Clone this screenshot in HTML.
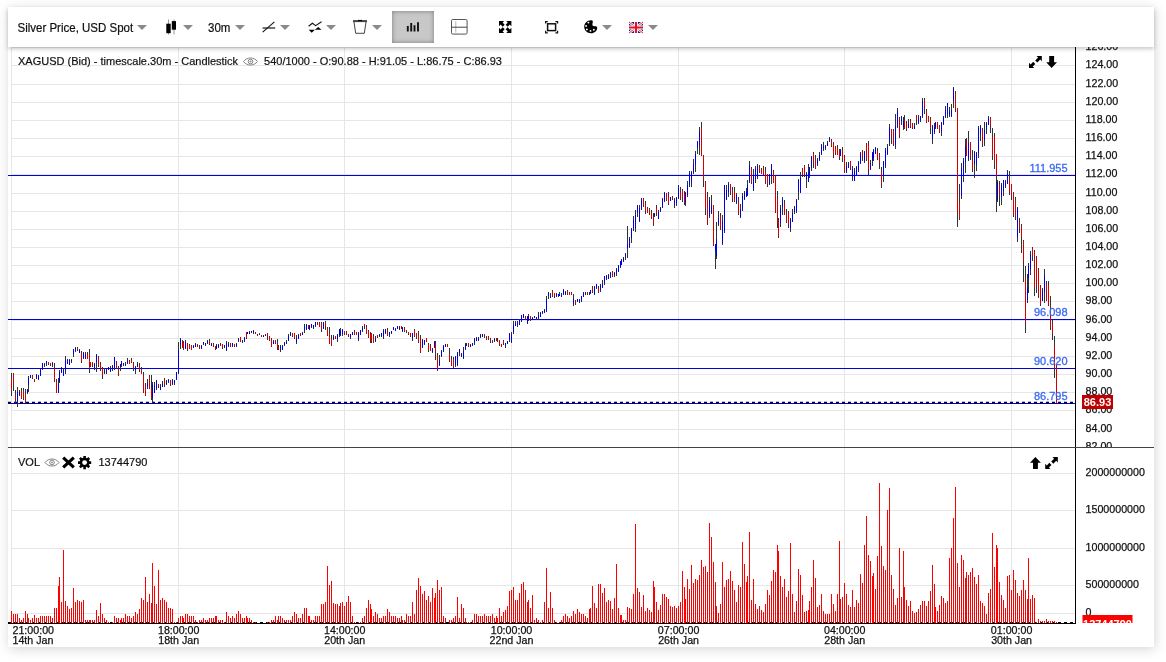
<!DOCTYPE html>
<html><head><meta charset="utf-8"><title>Silver Price Chart</title>
<style>
html,body{margin:0;padding:0;background:#fff;}
body{width:1166px;height:662px;overflow:hidden;position:relative;font-family:"Liberation Sans",sans-serif;}
#panel{position:absolute;left:8px;top:7px;width:1146px;height:640px;background:#fff;box-shadow:1px 2px 11px rgba(0,0,0,.17);}
#ch{position:absolute;left:0;top:0;will-change:transform;}
#tb{will-change:transform;position:absolute;left:8px;top:7px;width:1146px;height:40px;background:#fff;box-shadow:0 2px 4px rgba(0,0,0,.22);}
#tb .t{position:absolute;top:13px;font-size:11.5px;line-height:15px;color:#111;white-space:nowrap;transform:scaleY(1.1);transform-origin:0 0;-webkit-text-stroke:.2px #111;}
#tb .dd{position:absolute;top:18px;width:0;height:0;border-left:5px solid transparent;border-right:5px solid transparent;border-top:5px solid #8a8a8a;}
#tb svg{position:absolute;overflow:visible;}
#act{position:absolute;left:384px;top:4px;width:42px;height:32px;background:#c8c8c8;box-shadow:inset 0 0 5px rgba(0,0,0,.38);}
text{font-family:"Liberation Sans",sans-serif;}
.ax{font-size:10.67px;fill:#111;stroke:#111;stroke-width:.25px;}
.lg{font-size:11px;fill:#111;stroke:#111;stroke-width:.2px;}
.bl{font-size:11px;fill:#3a69f5;stroke:#3a69f5;stroke-width:.3px;}
.tag{font-size:11px;font-weight:bold;fill:#fff;}
</style></head><body>
<div id="panel"></div>
<svg id="ch" width="1166" height="662" viewBox="0 0 1166 662">
<defs><clipPath id="cm"><rect x="8" y="47" width="1146" height="400.5"/></clipPath><clipPath id="cv"><rect x="8" y="448" width="1146" height="175"/></clipPath></defs>
<path d="M11 447.5H1075M11 429.5H1075M11 410.5H1075M11 392.5H1075M11 374.5H1075M11 356.5H1075M11 338.5H1075M11 320.5H1075M11 301.5H1075M11 283.5H1075M11 265.5H1075M11 247.5H1075M11 229.5H1075M11 211.5H1075M11 193.5H1075M11 174.5H1075M11 156.5H1075M11 138.5H1075M11 120.5H1075M11 102.5H1075M11 84.5H1075M11 65.5H1075M11 47.5H1075M11 473.5H1075M11 510.5H1075M11 548.5H1075M11 585.5H1075M11 613.5H1075M11.5 47V622M178.5 47V622M344.5 47V622M511.5 47V622M678.5 47V622M844.5 47V622M1011.5 47V622" stroke="#e6e6e6" stroke-width="1" fill="none" shape-rendering="crispEdges"/>
<g clip-path="url(#cm)">
<path d="M8 175.5H1075" stroke="#0000e0" stroke-width="1" shape-rendering="crispEdges"/>
<path d="M8 319.5H1075" stroke="#0000e0" stroke-width="1" shape-rendering="crispEdges"/>
<path d="M8 368.5H1075" stroke="#0000e0" stroke-width="1" shape-rendering="crispEdges"/>
<path d="M8 403.5H1075" stroke="#0000e0" stroke-width="1" shape-rendering="crispEdges"/>
<path d="M8 402.5H1075" stroke="#000" stroke-width="1.4" stroke-dasharray="3 3"/>
<path d="M11.5 373V396M13.5 373V391M15.5 390V403M17.5 387V407M19.5 390V396M21.5 388V399M23.5 388V400M25.5 389V403M27.5 389V394M28.5 376V392M30.5 375V378M32.5 375V379M34.5 379V382M36.5 374V379M38.5 375V380M40.5 369V376M42.5 363V370M44.5 363V367M46.5 361V366M48.5 362V365M50.5 363V366M52.5 362V367M54.5 363V382M56.5 379V393M58.5 378V393M59.5 370V383M61.5 367V373M63.5 368V376M65.5 356V374M67.5 359V364M69.5 359V365M71.5 359V363M73.5 349V357M75.5 347V352M77.5 347V351M79.5 349V353M81.5 351V363M83.5 352V359M85.5 352V359M87.5 352V359M89.5 349V373M90.5 362V367M92.5 362V367M94.5 363V370M96.5 354V372M98.5 356V367M100.5 362V371M102.5 367V379M104.5 368V374M106.5 369V374M108.5 367V370M110.5 366V372M112.5 365V371M114.5 357V370M116.5 361V369M118.5 366V376M120.5 364V371M121.5 361V367M123.5 363V366M125.5 362V366M127.5 358V364M129.5 360V364M131.5 358V363M133.5 362V371M135.5 366V374M137.5 362V367M139.5 363V372M141.5 367V374M143.5 372V393M145.5 383V396M147.5 379V389M149.5 375V389M151.5 375V400M152.5 382V403M154.5 382V393M156.5 380V390M158.5 384V388M160.5 384V390M162.5 381V387M164.5 378V387M166.5 380V385M168.5 379V383M170.5 380V386M172.5 379V385M174.5 380V385M176.5 372V380M178.5 342V374M180.5 338V349M182.5 340V348M183.5 341V350M185.5 340V349M187.5 343V351M189.5 344V349M191.5 345V350M193.5 345V348M195.5 343V347M197.5 344V347M199.5 345V349M201.5 345V349M203.5 342V345M205.5 343V346M207.5 340V344M209.5 339V345M211.5 343V346M213.5 343V347M215.5 346V350M216.5 344V349M218.5 344V348M220.5 343V346M222.5 344V349M224.5 345V348M226.5 341V351M228.5 342V347M230.5 343V347M232.5 343V347M234.5 344V347M236.5 343V347M238.5 338V342M240.5 337V342M242.5 340V343M244.5 337V342M246.5 332V339M247.5 332V334M249.5 331V334M251.5 331V333M253.5 330V334M255.5 332V334M257.5 334V336M259.5 333V335M261.5 335V337M263.5 335V337M265.5 334V336M267.5 333V340M269.5 336V341M271.5 338V347M273.5 340V344M275.5 340V344M277.5 339V350M278.5 345V350M280.5 345V352M282.5 345V350M284.5 342V346M286.5 340V344M288.5 334V341M290.5 332V336M292.5 333V337M294.5 333V339M296.5 335V344M298.5 334V339M300.5 333V336M302.5 332V335M304.5 324V333M306.5 324V330M308.5 325V329M309.5 325V330M311.5 324V328M313.5 325V329M315.5 322V327M317.5 322V325M319.5 322V327M321.5 322V332M323.5 322V329M325.5 321V330M327.5 327V336M329.5 327V344M331.5 335V346M333.5 335V340M335.5 336V339M337.5 334V342M339.5 329V337M340.5 328V336M342.5 329V336M344.5 331V335M346.5 331V335M348.5 334V337M350.5 334V339M352.5 332V335M354.5 330V335M356.5 332V335M358.5 332V341M360.5 330V335M362.5 326V332M364.5 324V329M366.5 325V334M368.5 330V338M370.5 332V343M371.5 333V343M373.5 334V343M375.5 336V342M377.5 335V338M379.5 334V337M381.5 333V337M383.5 329V339M385.5 329V334M387.5 328V336M389.5 332V337M391.5 331V334M393.5 327V330M395.5 328V331M397.5 326V329M399.5 326V330M401.5 326V329M402.5 327V332M404.5 327V332M406.5 330V333M408.5 332V335M410.5 333V337M412.5 333V341M414.5 329V337M416.5 333V339M418.5 331V343M420.5 335V353M422.5 339V348M424.5 340V345M426.5 338V342M428.5 343V352M430.5 344V351M432.5 348V353M434.5 341V348M435.5 341V360M437.5 353V371M439.5 355V366M441.5 350V357M443.5 345V352M445.5 344V347M447.5 344V347M449.5 348V362M451.5 356V366M453.5 357V368M455.5 356V367M457.5 352V366M459.5 349V356M461.5 353V357M463.5 347V359M465.5 343V350M466.5 343V346M468.5 343V347M470.5 344V347M472.5 343V346M474.5 338V345M476.5 337V341M478.5 337V341M480.5 334V338M482.5 334V337M484.5 334V338M486.5 336V340M488.5 336V340M490.5 338V343M492.5 340V343M494.5 338V342M496.5 338V341M497.5 338V342M499.5 340V346M501.5 344V347M503.5 340V345M505.5 343V348M507.5 341V344M509.5 333V342M511.5 332V343M513.5 321V334M515.5 321V326M517.5 321V327M519.5 319V325M521.5 315V322M523.5 314V318M525.5 316V320M527.5 316V324M528.5 314V321M530.5 316V321M532.5 317V320M534.5 316V318M536.5 317V320M538.5 312V320M540.5 312V317M542.5 311V314M544.5 309V313M546.5 296V312M548.5 292V299M550.5 293V298M552.5 290V297M554.5 293V298M556.5 293V297M558.5 294V297M559.5 292V296M561.5 293V297M563.5 289V295M565.5 291V295M567.5 290V295M569.5 292V295M571.5 292V295M573.5 294V306M575.5 300V305M577.5 299V302M579.5 299V303M581.5 296V302M583.5 292V297M585.5 292V295M587.5 292V295M589.5 292V295M590.5 290V294M592.5 286V293M594.5 286V295M596.5 284V289M598.5 286V293M600.5 284V292M602.5 280V288M604.5 276V285M606.5 275V280M608.5 274V279M610.5 272V278M612.5 271V277M614.5 272V277M616.5 268V276M618.5 265V272M620.5 261V268M621.5 259V265M623.5 257V262M625.5 253V260M627.5 226V258M629.5 237V248M631.5 228V243M633.5 216V231M635.5 210V232M637.5 205V217M639.5 205V222M641.5 198V210M643.5 198V207M645.5 201V214M647.5 207V213M649.5 208V215M651.5 210V219M653.5 213V226M654.5 213V217M656.5 205V216M658.5 210V219M660.5 207V212M662.5 198V208M664.5 192V202M666.5 193V201M668.5 192V205M670.5 197V201M672.5 196V200M674.5 198V208M676.5 197V206M678.5 185V199M680.5 187V200M682.5 189V202M684.5 191V205M685.5 192V206M687.5 181V197M689.5 171V187M691.5 171V187M693.5 159V174M695.5 151V172M697.5 141V154M699.5 127V155M701.5 122V156M703.5 155V187M705.5 181V215M707.5 192V225M709.5 197V218M711.5 195V214M713.5 205V246M715.5 244V269M716.5 222V259M718.5 211V226M720.5 213V230M722.5 215V245M724.5 185V233M726.5 185V200M728.5 182V197M730.5 184V195M732.5 187V202M734.5 187V202M736.5 193V204M738.5 197V215M740.5 204V218M742.5 193V211M744.5 191V200M746.5 188V197M747.5 180V196M749.5 161V183M751.5 167V184M753.5 169V191M755.5 166V183M757.5 164V179M759.5 165V173M761.5 168V174M763.5 166V175M765.5 167V184M767.5 174V187M769.5 174V185M771.5 164V184M773.5 170V183M775.5 175V213M777.5 191V228M778.5 218V238M780.5 205V227M782.5 197V215M784.5 200V215M786.5 209V223M788.5 211V228M790.5 218V232M792.5 209V222M794.5 206V214M796.5 199V213M798.5 179V200M800.5 172V193M802.5 168V177M804.5 165V177M806.5 172V188M808.5 164V182M809.5 167V178M811.5 156V171M813.5 152V168M815.5 155V169M817.5 158V166M819.5 152V161M821.5 144V155M823.5 142V151M825.5 145V150M827.5 141V146M829.5 137V142M831.5 139V147M833.5 142V158M835.5 146V155M837.5 145V155M839.5 149V160M840.5 149V156M842.5 147V162M844.5 155V173M846.5 162V173M848.5 162V168M850.5 161V170M852.5 166V181M854.5 168V181M856.5 166V175M858.5 161V172M860.5 152V164M862.5 150V161M864.5 151V163M866.5 143V161M868.5 141V175M870.5 160V170M872.5 152V166M873.5 149V161M875.5 147V154M877.5 148V160M879.5 153V169M881.5 167V188M883.5 161V182M885.5 148V168M887.5 144V155M889.5 124V146M891.5 129V144M893.5 129V146M895.5 114V149M897.5 108V128M899.5 117V138M901.5 116V125M903.5 117V130M904.5 115V129M906.5 121V131M908.5 119V128M910.5 119V128M912.5 123V129M914.5 123V129M916.5 115V125M918.5 115V124M920.5 116V122M922.5 98V118M924.5 98V114M926.5 109V123M928.5 116V122M930.5 117V134M932.5 125V144M934.5 123V134M935.5 122V129M937.5 122V129M939.5 125V133M941.5 122V136M943.5 116V125M945.5 106V118M947.5 103V118M949.5 107V117M951.5 104V117M953.5 87V108M955.5 91V112M957.5 108V227M959.5 184V220M961.5 163V199M963.5 158V182M965.5 139V173M966.5 138V156M968.5 131V161M970.5 142V160M972.5 150V172M974.5 151V178M976.5 152V171M978.5 126V158M980.5 125V141M982.5 128V147M984.5 122V146M986.5 122V134M988.5 116V125M990.5 117V133M992.5 128V160M994.5 133V169M996.5 154V212M997.5 180V202M999.5 181V206M1001.5 183V205M1003.5 180V196M1005.5 180V188M1007.5 170V184M1009.5 171V195M1011.5 184V200M1013.5 192V217M1015.5 197V220M1017.5 207V242M1019.5 218V233M1021.5 224V253M1023.5 240V282M1025.5 266V333M1027.5 274V303M1028.5 263V293M1030.5 251V275M1032.5 247V261M1034.5 250V296M1036.5 256V293M1038.5 268V298M1040.5 285V306M1042.5 288V301M1044.5 269V303M1046.5 281V301M1048.5 281V306M1050.5 296V330M1052.5 320V340M1054.5 336V378M1056.5 364V403" stroke="#2e3436" stroke-width="1" shape-rendering="crispEdges"/>
<path d="M17.5 392V402M19.5 392V395M27.5 390V393M28.5 378V385M30.5 375V378M36.5 375V378M38.5 376V379M40.5 370V376M42.5 363V369M44.5 364V365M46.5 361V364M52.5 363V365M58.5 384V393M59.5 372V382M61.5 368V373M63.5 370V376M65.5 360V371M67.5 360V364M69.5 360V365M71.5 360V361M73.5 349V354M75.5 348V351M79.5 350V353M83.5 353V358M85.5 354V358M94.5 364V368M96.5 355V362M104.5 371V373M106.5 370V372M108.5 367V370M110.5 368V371M112.5 366V369M114.5 357V368M120.5 364V367M121.5 361V365M123.5 363V365M125.5 364V365M127.5 361V363M135.5 367V370M137.5 364V367M147.5 383V387M152.5 385V398M154.5 385V393M156.5 381V388M160.5 387V390M162.5 384V387M166.5 381V384M168.5 380V382M172.5 381V384M174.5 380V383M176.5 372V379M178.5 350V373M180.5 339V345M185.5 342V349M193.5 346V348M195.5 344V347M201.5 346V349M203.5 342V344M205.5 343V345M207.5 341V343M211.5 344V346M216.5 345V349M218.5 345V347M224.5 345V347M226.5 343V350M228.5 344V346M232.5 343V346M236.5 344V346M238.5 339V341M242.5 341V342M244.5 338V341M247.5 332V334M249.5 332V334M251.5 331V332M253.5 331V333M263.5 336V337M265.5 335V336M273.5 341V344M280.5 346V350M282.5 346V350M284.5 343V345M286.5 342V344M288.5 336V341M290.5 333V335M296.5 338V342M298.5 335V339M302.5 333V335M304.5 326V330M306.5 325V329M309.5 326V329M311.5 324V327M313.5 325V328M315.5 322V326M323.5 323V329M333.5 337V339M337.5 335V339M339.5 329V335M340.5 331V335M342.5 330V334M350.5 334V337M352.5 332V335M358.5 333V339M360.5 330V335M362.5 328V331M375.5 339V341M379.5 335V336M381.5 333V336M383.5 331V336M385.5 329V333M389.5 332V335M391.5 331V333M393.5 327V330M395.5 329V331M397.5 326V329M399.5 327V329M402.5 328V331M412.5 333V338M422.5 340V347M424.5 340V344M432.5 349V352M434.5 342V346M439.5 360V365M441.5 351V356M443.5 346V351M445.5 344V347M455.5 357V365M457.5 353V365M459.5 349V353M461.5 354V356M463.5 351V358M465.5 345V349M466.5 344V345M470.5 345V347M472.5 343V345M474.5 339V342M476.5 338V341M478.5 338V340M480.5 335V337M482.5 334V337M494.5 339V341M505.5 343V346M507.5 341V344M509.5 334V340M511.5 335V342M513.5 325V332M515.5 323V326M517.5 322V325M519.5 320V325M521.5 315V321M523.5 314V318M527.5 317V323M528.5 316V320M532.5 318V320M534.5 316V317M536.5 317V319M538.5 315V318M540.5 313V317M542.5 311V313M544.5 310V313M546.5 299V311M548.5 293V296M550.5 296V298M556.5 294V296M558.5 294V296M559.5 294V296M561.5 295V297M563.5 290V295M565.5 292V294M573.5 299V304M577.5 299V301M579.5 300V302M581.5 296V301M583.5 293V297M585.5 292V294M589.5 293V294M590.5 290V293M594.5 287V294M596.5 284V288M600.5 285V290M602.5 284V287M604.5 276V283M606.5 276V279M608.5 275V279M610.5 273V276M614.5 273V275M616.5 269V273M618.5 266V272M620.5 261V267M621.5 260V265M623.5 258V261M625.5 254V257M627.5 244V248M629.5 239V247M631.5 229V238M633.5 220V229M635.5 215V228M637.5 206V213M639.5 208V221M641.5 199V209M654.5 214V216M658.5 212V219M660.5 208V211M662.5 199V207M664.5 193V201M670.5 197V201M674.5 200V205M676.5 198V203M678.5 188V198M685.5 193V203M687.5 185V195M689.5 173V185M691.5 172V182M693.5 164V172M695.5 154V165M697.5 142V148M699.5 131V145M709.5 200V216M711.5 205V213M715.5 244V251M716.5 239V256M718.5 218V224M722.5 221V243M724.5 185V231M726.5 190V199M728.5 184V192M736.5 195V203M740.5 209V217M742.5 196V209M744.5 193V199M746.5 192V197M747.5 185V195M749.5 165V181M753.5 175V189M755.5 169V179M757.5 166V177M769.5 175V184M771.5 165V176M780.5 208V223M782.5 199V207M790.5 220V228M792.5 213V222M794.5 207V212M796.5 200V211M798.5 180V192M800.5 178V193M806.5 173V179M808.5 173V182M809.5 167V176M811.5 157V168M817.5 160V164M819.5 155V160M821.5 145V154M823.5 146V149M825.5 146V148M827.5 143V146M829.5 138V140M840.5 150V156M846.5 166V172M848.5 163V168M852.5 169V177M854.5 171V181M856.5 167V175M858.5 162V170M860.5 154V163M864.5 152V161M870.5 163V169M872.5 153V161M873.5 150V158M875.5 148V154M883.5 162V176M885.5 150V166M887.5 147V154M889.5 127V142M895.5 126V145M897.5 111V127M901.5 117V121M903.5 121V127M908.5 124V128M914.5 126V129M918.5 118V123M920.5 116V120M922.5 101V116M932.5 126V138M934.5 127V132M935.5 122V127M941.5 123V131M943.5 117V124M945.5 110V117M947.5 103V114M949.5 111V115M951.5 110V116M953.5 88V101M961.5 168V196M963.5 161V176M965.5 146V162M968.5 143V159M974.5 152V164M976.5 153V165M978.5 128V153M980.5 127V134M984.5 130V140M986.5 123V129M988.5 118V125M997.5 182V200M1001.5 185V197M1003.5 180V191M1005.5 181V186M1007.5 173V184M1017.5 208V237M1027.5 287V300M1028.5 266V278M1030.5 254V269M1042.5 290V301M1044.5 275V292" stroke="#0000dc" stroke-width="1" shape-rendering="crispEdges"/>
<path d="M11.5 379V391M13.5 374V383M15.5 395V401M21.5 391V398M23.5 391V398M25.5 394V402M32.5 376V378M34.5 379V382M48.5 362V364M50.5 363V365M54.5 368V381M56.5 382V393M77.5 348V350M81.5 353V361M87.5 354V359M89.5 354V368M90.5 362V366M92.5 362V365M98.5 358V366M100.5 364V369M102.5 368V375M116.5 363V368M118.5 370V375M129.5 361V364M131.5 360V363M133.5 363V368M139.5 365V370M141.5 370V374M143.5 375V391M145.5 385V395M149.5 377V388M151.5 388V398M158.5 384V386M164.5 379V384M170.5 381V386M182.5 343V348M183.5 341V348M187.5 343V349M189.5 345V349M191.5 345V350M197.5 344V347M199.5 347V349M209.5 341V344M213.5 344V347M215.5 346V349M220.5 344V346M222.5 344V347M230.5 343V347M234.5 344V346M240.5 337V342M246.5 332V338M255.5 333V334M257.5 335V336M259.5 333V334M261.5 335V337M267.5 333V336M269.5 336V340M271.5 339V346M275.5 340V343M277.5 344V348M278.5 347V350M292.5 333V336M294.5 333V338M300.5 333V335M308.5 325V328M317.5 322V325M319.5 323V327M321.5 324V329M325.5 322V326M327.5 328V335M329.5 333V343M331.5 339V345M335.5 336V338M344.5 331V333M346.5 332V334M348.5 334V336M354.5 331V334M356.5 332V335M364.5 324V326M366.5 327V334M368.5 331V337M370.5 334V339M371.5 333V342M373.5 336V343M377.5 335V337M387.5 330V335M401.5 326V329M404.5 328V331M406.5 331V332M408.5 332V334M410.5 333V336M414.5 330V336M416.5 333V337M418.5 336V342M420.5 339V352M426.5 338V342M428.5 344V350M430.5 347V351M435.5 343V351M437.5 355V370M447.5 344V347M449.5 354V361M451.5 359V365M453.5 361V367M468.5 343V346M484.5 334V337M486.5 337V339M488.5 336V338M490.5 340V342M492.5 340V341M496.5 338V340M497.5 340V341M499.5 340V344M501.5 344V347M503.5 341V344M525.5 317V319M530.5 316V319M552.5 291V296M554.5 293V296M567.5 291V294M569.5 293V295M571.5 292V295M575.5 301V303M587.5 292V294M592.5 287V290M598.5 288V292M612.5 271V276M643.5 199V205M645.5 204V210M647.5 208V213M649.5 210V214M651.5 212V218M653.5 217V223M656.5 208V213M666.5 193V200M668.5 196V203M672.5 197V199M680.5 192V199M682.5 190V197M684.5 193V203M701.5 128V155M703.5 155V179M705.5 182V208M707.5 197V223M713.5 205V245M720.5 216V229M730.5 184V191M732.5 191V198M734.5 192V201M738.5 202V214M751.5 168V182M759.5 167V171M761.5 170V174M763.5 167V174M765.5 172V181M767.5 174V184M773.5 172V182M775.5 176V211M777.5 198V223M778.5 222V236M784.5 204V214M786.5 214V222M788.5 213V224M802.5 169V175M804.5 166V174M813.5 153V161M815.5 158V168M831.5 141V146M833.5 143V155M835.5 147V153M837.5 147V155M839.5 150V157M842.5 151V159M844.5 157V172M850.5 161V168M862.5 151V157M866.5 144V159M868.5 145V170M877.5 151V158M879.5 155V163M881.5 172V184M891.5 129V136M893.5 131V144M899.5 118V135M904.5 120V128M906.5 124V129M910.5 121V127M912.5 124V128M916.5 115V120M924.5 100V107M926.5 111V122M928.5 117V121M930.5 119V128M937.5 122V128M939.5 126V132M955.5 93V109M957.5 108V212M959.5 203V219M966.5 140V156M970.5 143V157M972.5 160V169M982.5 130V143M990.5 118V126M992.5 137V156M994.5 136V163M996.5 154V176M999.5 184V196M1009.5 178V191M1011.5 184V196M1013.5 194V214M1015.5 201V216M1019.5 221V227M1021.5 226V238M1023.5 241V262M1025.5 278V322M1032.5 248V256M1034.5 252V288M1036.5 258V285M1038.5 270V295M1040.5 287V304M1046.5 284V301M1048.5 286V305M1050.5 307V328M1052.5 324V334M1054.5 346V369M1056.5 367V403" stroke="#d40000" stroke-width="1" shape-rendering="crispEdges"/>
<text x="1067.6" y="172" text-anchor="end" class="bl">111.955</text>
<text x="1067.6" y="316" text-anchor="end" class="bl">96.098</text>
<text x="1067.6" y="365" text-anchor="end" class="bl">90.620</text>
<text x="1067.6" y="400" text-anchor="end" class="bl">86.795</text>
<text x="1085.6" y="449.8" class="ax">82.00</text>
<text x="1085.6" y="431.8" class="ax">84.00</text>
<text x="1085.6" y="412.8" class="ax">86.00</text>
<text x="1085.6" y="394.8" class="ax">88.00</text>
<text x="1085.6" y="376.8" class="ax">90.00</text>
<text x="1085.6" y="358.8" class="ax">92.00</text>
<text x="1085.6" y="340.8" class="ax">94.00</text>
<text x="1085.6" y="322.8" class="ax">96.00</text>
<text x="1085.6" y="303.8" class="ax">98.00</text>
<text x="1085.6" y="285.8" class="ax">100.00</text>
<text x="1085.6" y="267.8" class="ax">102.00</text>
<text x="1085.6" y="249.8" class="ax">104.00</text>
<text x="1085.6" y="231.8" class="ax">106.00</text>
<text x="1085.6" y="213.8" class="ax">108.00</text>
<text x="1085.6" y="195.8" class="ax">110.00</text>
<text x="1085.6" y="176.8" class="ax">112.00</text>
<text x="1085.6" y="158.8" class="ax">114.00</text>
<text x="1085.6" y="140.8" class="ax">116.00</text>
<text x="1085.6" y="122.8" class="ax">118.00</text>
<text x="1085.6" y="104.8" class="ax">120.00</text>
<text x="1085.6" y="86.8" class="ax">122.00</text>
<text x="1085.6" y="67.8" class="ax">124.00</text>
<text x="1085.6" y="49.8" class="ax">126.00</text>
<rect x="1082" y="395" width="31" height="14" fill="#c00000"/>
<text x="1097.5" y="406" text-anchor="middle" class="tag">86.93</text>
</g>
<g clip-path="url(#cv)">
<path d="M8 622.5H1075" stroke="#000" stroke-width="1" stroke-dasharray="3 3" shape-rendering="crispEdges"/>
<path d="M11.5 623v-12M13.5 623v-9M15.5 623v-9M17.5 623v-9M19.5 623v-5M21.5 623v-3M23.5 623v-5M25.5 623v-12M27.5 623v-9M28.5 623v-5M30.5 623v-3M32.5 623v-5M34.5 623v-8M36.5 623v-5M38.5 623v-5M40.5 623v-7M42.5 623v-7M44.5 623v-7M46.5 623v-7M48.5 623v-7M50.5 623v-7M52.5 623v-5M54.5 623v-15M56.5 623v-15M58.5 623v-37M59.5 623v-46M61.5 623v-21M63.5 623v-73M65.5 623v-22M67.5 623v-17M69.5 623v-14M71.5 623v-15M73.5 623v-35M75.5 623v-21M77.5 623v-23M79.5 623v-22M81.5 623v-21M83.5 623v-23M85.5 623v-3M87.5 623v-3M89.5 623v-3M90.5 623v-3M92.5 623v-3M94.5 623v-3M96.5 623v-13M98.5 623v-7M100.5 623v-20M102.5 623v-9M104.5 623v-5M106.5 623v-3M108.5 623v-1M112.5 623v-1M114.5 623v-7M116.5 623v-5M118.5 623v-5M120.5 623v-3M121.5 623v-5M123.5 623v-5M125.5 623v-9M127.5 623v-7M129.5 623v-7M131.5 623v-5M133.5 623v-7M135.5 623v-11M137.5 623v-9M139.5 623v-14M141.5 623v-25M143.5 623v-23M145.5 623v-46M147.5 623v-21M149.5 623v-29M151.5 623v-20M152.5 623v-60M154.5 623v-37M156.5 623v-19M158.5 623v-53M160.5 623v-23M162.5 623v-25M164.5 623v-23M166.5 623v-21M168.5 623v-15M170.5 623v-15M172.5 623v-14M174.5 623v-1M176.5 623v-1M178.5 623v-5M180.5 623v-7M182.5 623v-7M183.5 623v-5M185.5 623v-9M187.5 623v-9M189.5 623v-7M191.5 623v-7M193.5 623v-7M195.5 623v-3M197.5 623v-1M199.5 623v-3M201.5 623v-3M203.5 623v-5M205.5 623v-3M207.5 623v-3M209.5 623v-5M211.5 623v-5M213.5 623v-5M215.5 623v-7M216.5 623v-7M218.5 623v-3M220.5 623v-3M222.5 623v-3M224.5 623v-1M226.5 623v-11M228.5 623v-7M230.5 623v-5M232.5 623v-7M234.5 623v-5M236.5 623v-9M238.5 623v-12M240.5 623v-9M242.5 623v-5M244.5 623v-5M246.5 623v-7M247.5 623v-5M249.5 623v-5M251.5 623v-3M253.5 623v-1M255.5 623v-1M267.5 623v-1M269.5 623v-1M271.5 623v-3M273.5 623v-3M275.5 623v-7M277.5 623v-3M278.5 623v-7M280.5 623v-7M282.5 623v-5M284.5 623v-3M286.5 623v-3M288.5 623v-3M290.5 623v-3M292.5 623v-7M294.5 623v-11M296.5 623v-9M298.5 623v-5M300.5 623v-5M302.5 623v-9M304.5 623v-15M306.5 623v-15M308.5 623v-7M309.5 623v-7M311.5 623v-3M313.5 623v-3M315.5 623v-7M317.5 623v-7M319.5 623v-7M321.5 623v-19M323.5 623v-19M325.5 623v-21M327.5 623v-57M329.5 623v-38M331.5 623v-42M333.5 623v-20M335.5 623v-19M337.5 623v-19M339.5 623v-17M340.5 623v-20M342.5 623v-21M344.5 623v-17M346.5 623v-21M348.5 623v-27M350.5 623v-21M352.5 623v-7M354.5 623v-1M358.5 623v-1M360.5 623v-1M362.5 623v-5M364.5 623v-7M366.5 623v-15M368.5 623v-23M370.5 623v-19M371.5 623v-14M373.5 623v-7M375.5 623v-11M377.5 623v-9M379.5 623v-5M381.5 623v-5M383.5 623v-7M385.5 623v-7M387.5 623v-14M389.5 623v-11M391.5 623v-7M393.5 623v-7M395.5 623v-7M397.5 623v-5M399.5 623v-5M401.5 623v-7M402.5 623v-3M404.5 623v-3M406.5 623v-9M408.5 623v-7M410.5 623v-7M412.5 623v-21M414.5 623v-9M416.5 623v-33M418.5 623v-45M420.5 623v-37M422.5 623v-29M424.5 623v-32M426.5 623v-23M428.5 623v-27M430.5 623v-21M432.5 623v-35M434.5 623v-25M435.5 623v-30M437.5 623v-43M439.5 623v-33M441.5 623v-36M443.5 623v-7M445.5 623v-5M449.5 623v-3M451.5 623v-3M453.5 623v-5M455.5 623v-7M457.5 623v-26M459.5 623v-5M461.5 623v-19M463.5 623v-15M465.5 623v-5M466.5 623v-1M468.5 623v-1M470.5 623v-1M472.5 623v-3M474.5 623v-9M476.5 623v-9M478.5 623v-7M480.5 623v-7M482.5 623v-7M484.5 623v-9M486.5 623v-7M488.5 623v-7M490.5 623v-7M492.5 623v-9M494.5 623v-5M496.5 623v-7M497.5 623v-5M499.5 623v-15M501.5 623v-7M503.5 623v-11M505.5 623v-13M507.5 623v-17M509.5 623v-32M511.5 623v-33M513.5 623v-36M515.5 623v-23M517.5 623v-23M519.5 623v-30M521.5 623v-39M523.5 623v-41M525.5 623v-33M527.5 623v-21M528.5 623v-23M530.5 623v-15M532.5 623v-28M534.5 623v-3M536.5 623v-5M538.5 623v-3M540.5 623v-1M542.5 623v-3M544.5 623v-21M546.5 623v-55M548.5 623v-15M550.5 623v-31M552.5 623v-15M554.5 623v-3M556.5 623v-1M559.5 623v-1M561.5 623v-3M563.5 623v-7M565.5 623v-9M567.5 623v-7M569.5 623v-5M571.5 623v-7M573.5 623v-12M575.5 623v-9M577.5 623v-14M579.5 623v-11M581.5 623v-9M583.5 623v-9M585.5 623v-7M587.5 623v-5M589.5 623v-14M590.5 623v-15M592.5 623v-37M594.5 623v-20M596.5 623v-15M598.5 623v-39M600.5 623v-39M602.5 623v-30M604.5 623v-35M606.5 623v-21M608.5 623v-23M610.5 623v-22M612.5 623v-14M614.5 623v-25M616.5 623v-59M618.5 623v-15M620.5 623v-8M621.5 623v-8M623.5 623v-3M625.5 623v-3M627.5 623v-16M629.5 623v-15M631.5 623v-14M633.5 623v-29M635.5 623v-99M637.5 623v-35M639.5 623v-31M641.5 623v-16M643.5 623v-28M645.5 623v-12M647.5 623v-15M649.5 623v-13M651.5 623v-11M653.5 623v-42M654.5 623v-36M656.5 623v-21M658.5 623v-13M660.5 623v-18M662.5 623v-29M664.5 623v-29M666.5 623v-26M668.5 623v-24M670.5 623v-17M672.5 623v-16M674.5 623v-17M676.5 623v-15M678.5 623v-17M680.5 623v-21M682.5 623v-52M684.5 623v-36M685.5 623v-24M687.5 623v-44M689.5 623v-34M691.5 623v-58M693.5 623v-40M695.5 623v-44M697.5 623v-43M699.5 623v-48M701.5 623v-63M703.5 623v-56M705.5 623v-57M707.5 623v-51M709.5 623v-100M711.5 623v-86M713.5 623v-61M715.5 623v-41M716.5 623v-17M718.5 623v-10M720.5 623v-19M722.5 623v-61M724.5 623v-36M726.5 623v-43M728.5 623v-44M730.5 623v-52M732.5 623v-42M734.5 623v-33M736.5 623v-21M738.5 623v-38M740.5 623v-36M742.5 623v-81M744.5 623v-59M746.5 623v-41M747.5 623v-47M749.5 623v-91M751.5 623v-23M753.5 623v-44M755.5 623v-19M757.5 623v-14M759.5 623v-17M761.5 623v-13M763.5 623v-11M765.5 623v-19M767.5 623v-33M769.5 623v-28M771.5 623v-42M773.5 623v-53M775.5 623v-51M777.5 623v-78M778.5 623v-72M780.5 623v-47M782.5 623v-36M784.5 623v-44M786.5 623v-26M788.5 623v-32M790.5 623v-80M792.5 623v-29M794.5 623v-11M796.5 623v-22M798.5 623v-54M800.5 623v-48M802.5 623v-28M804.5 623v-11M806.5 623v-12M808.5 623v-13M809.5 623v-22M811.5 623v-36M813.5 623v-63M815.5 623v-45M817.5 623v-16M819.5 623v-18M821.5 623v-29M823.5 623v-12M825.5 623v-9M827.5 623v-9M829.5 623v-9M831.5 623v-29M833.5 623v-19M835.5 623v-12M837.5 623v-29M839.5 623v-82M840.5 623v-24M842.5 623v-26M844.5 623v-40M846.5 623v-29M848.5 623v-18M850.5 623v-16M852.5 623v-33M854.5 623v-16M856.5 623v-23M858.5 623v-20M860.5 623v-49M862.5 623v-40M864.5 623v-78M866.5 623v-107M868.5 623v-68M870.5 623v-62M872.5 623v-47M873.5 623v-50M875.5 623v-34M877.5 623v-67M879.5 623v-140M881.5 623v-77M883.5 623v-57M885.5 623v-53M887.5 623v-113M889.5 623v-135M891.5 623v-48M893.5 623v-34M895.5 623v-18M897.5 623v-25M899.5 623v-75M901.5 623v-26M903.5 623v-72M904.5 623v-36M906.5 623v-23M908.5 623v-17M910.5 623v-22M912.5 623v-12M914.5 623v-10M916.5 623v-11M918.5 623v-14M920.5 623v-18M922.5 623v-22M924.5 623v-22M926.5 623v-17M928.5 623v-22M930.5 623v-32M932.5 623v-58M934.5 623v-39M935.5 623v-16M937.5 623v-12M939.5 623v-18M941.5 623v-27M943.5 623v-25M945.5 623v-20M947.5 623v-22M949.5 623v-65M951.5 623v-75M953.5 623v-105M955.5 623v-136M957.5 623v-60M959.5 623v-36M961.5 623v-68M963.5 623v-63M965.5 623v-45M966.5 623v-51M968.5 623v-48M970.5 623v-51M972.5 623v-55M974.5 623v-46M976.5 623v-39M978.5 623v-48M980.5 623v-22M982.5 623v-20M984.5 623v-17M986.5 623v-9M988.5 623v-30M990.5 623v-34M992.5 623v-90M994.5 623v-56M996.5 623v-78M997.5 623v-75M999.5 623v-41M1001.5 623v-28M1003.5 623v-23M1005.5 623v-15M1007.5 623v-47M1009.5 623v-48M1011.5 623v-33M1013.5 623v-53M1015.5 623v-43M1017.5 623v-30M1019.5 623v-27M1021.5 623v-33M1023.5 623v-43M1025.5 623v-33M1027.5 623v-24M1028.5 623v-65M1030.5 623v-24M1032.5 623v-28M1034.5 623v-25M1036.5 623v-1M1038.5 623v-4M1040.5 623v-2M1042.5 623v-2M1044.5 623v-2M1046.5 623v-4M1048.5 623v-2M1050.5 623v-2M1052.5 623v-2M1054.5 623v-2M1056.5 623v-1" stroke="#ff0000" stroke-width="1" shape-rendering="crispEdges"/>
<text x="1085.6" y="475.8" class="ax">2000000000</text>
<text x="1085.6" y="512.8" class="ax">1500000000</text>
<text x="1085.6" y="550.8" class="ax">1000000000</text>
<text x="1085.6" y="587.8" class="ax">500000000</text>
<text x="1085.6" y="615.8" class="ax">0</text>
<rect x="1082.5" y="615" width="50" height="14" fill="#ff0000"/>
<text x="1107.5" y="627.6" text-anchor="middle" class="tag">13744790</text>
</g>
<path d="M8 623.5H1075" stroke="#000" stroke-width="1" shape-rendering="crispEdges"/>
<path d="M1075.5 47V624" stroke="#000" stroke-width="1" shape-rendering="crispEdges"/>
<path d="M8 447.5H1154" stroke="#444" stroke-width="1" shape-rendering="crispEdges"/>
<text x="12.5" y="634.3" class="ax">21:00:00</text><text x="12.5" y="643.9" class="ax">14th Jan</text>
<text x="178.7" y="634.3" text-anchor="middle" class="ax">18:00:00</text><text x="178.7" y="643.9" text-anchor="middle" class="ax">18th Jan</text>
<text x="344.7" y="634.3" text-anchor="middle" class="ax">14:00:00</text><text x="344.7" y="643.9" text-anchor="middle" class="ax">20th Jan</text>
<text x="511.5" y="634.3" text-anchor="middle" class="ax">10:00:00</text><text x="511.5" y="643.9" text-anchor="middle" class="ax">22nd Jan</text>
<text x="678.6" y="634.3" text-anchor="middle" class="ax">07:00:00</text><text x="678.6" y="643.9" text-anchor="middle" class="ax">26th Jan</text>
<text x="844.7" y="634.3" text-anchor="middle" class="ax">04:00:00</text><text x="844.7" y="643.9" text-anchor="middle" class="ax">28th Jan</text>
<text x="1011.6" y="634.3" text-anchor="middle" class="ax">01:00:00</text><text x="1011.6" y="643.9" text-anchor="middle" class="ax">30th Jan</text>
<text x="18" y="65" class="lg">XAGUSD (Bid) - timescale.30m - Candlestick</text>
<text x="264.1" y="65" class="lg">540/1000 - O:90.88 - H:91.05 - L:86.75 - C:86.93</text>
<text x="18" y="466" class="lg">VOL</text>
<text x="98.5" y="466" class="lg">13744790</text>
<g id="eye1" fill="none" stroke="#777" stroke-width="0.9"><path d="M243.5 61.5C247 56.8 254 56.8 257.5 61.5C254 66.2 247 66.2 243.5 61.5Z"/><circle cx="250.5" cy="61.5" r="2.3"/><circle cx="250.5" cy="61.5" r="0.6"/></g>
<g id="eye2" fill="none" stroke="#777" stroke-width="0.9"><path d="M45 462.5C48.5 457.8 55.5 457.8 59 462.5C55.5 467.2 48.5 467.2 45 462.5Z"/><circle cx="52" cy="462.5" r="2.3"/><circle cx="52" cy="462.5" r="0.6"/></g>
<path d="M63.2 457.6L73.8 467.4M73.8 457.6L63.2 467.4" stroke="#000" stroke-width="3.1"/>
<g transform="translate(84.6 462.6)"><circle r="3.7" fill="none" stroke="#000" stroke-width="2.5"/><path d="M0 -6.6V6.6M-6.6 0H6.6M-4.7 -4.7L4.7 4.7M-4.7 4.7L4.7 -4.7" stroke="#000" stroke-width="2.6" stroke-dasharray="2.4 8.4"/></g>
<g fill="#000"><path d="M1041.8 55.9V61.2L1040.2 59.6L1037.300 62.5L1035.2 60.4L1038.100 57.5L1036.500 55.9Z"/><path d="M1029 68.100V62.8L1030.600 64.4L1033.200 61.800L1035.300 63.900L1032.700 66.500L1034.300 68.100Z"/>
<path d="M1049.2 56H1054.1V62.3H1057L1051.6 68L1046.2 62.3H1049.2Z"/>
<path d="M1033 469H1037.900V462.800H1040.900L1035.400 457L1030 462.800H1033Z"/>
<path d="M1057.8 457.100V462.400L1056.200 460.800L1053.300 463.700L1051.200 461.600L1054.100 458.700L1052.500 457.100Z"/><path d="M1045.200 469.100V463.800L1046.800 465.400L1049.400 462.800L1051.500 464.900L1048.900 467.500L1050.500 469.100Z"/></g>

</svg>
<div id="tb">
<div class="t" style="left:9.5px">Silver Price, USD Spot</div><div class="dd" style="left:129px"></div>
<svg style="left:157px;top:12px" width="12" height="16" viewBox="0 0 12 16"><path d="M3.5 0.5V15.5M9 0.5V15.5" stroke="#999" stroke-width="1"/><rect x="1.3" y="4.7" width="4.4" height="9.5" fill="#000"/><rect x="6.8" y="2.1" width="4.2" height="8.6" fill="#000"/></svg>
<div class="dd" style="left:175px"></div>
<div class="t" style="left:200px">30m</div><div class="dd" style="left:227px"></div>
<svg style="left:253.5px;top:14px" width="14" height="12" viewBox="0 0 14 12"><path d="M0.6 7H13.2" stroke="#444" stroke-width="1.5"/><path d="M0.7 11.1L12.4 0.8" stroke="#111" stroke-width="1.1" fill="none"/></svg>
<div class="dd" style="left:272px"></div>
<svg style="left:299.5px;top:14px" width="14" height="12" viewBox="0 0 14 12"><path d="M0.6 5.2L4.4 2.3L7.7 4.6L13.5 0.7" stroke="#111" stroke-width="1.1" fill="none"/><path d="M0.7 8.8H13.5L10.2 6.1L6.9 8.8L3.7 11.75Z" fill="#000"/></svg>
<div class="dd" style="left:318px"></div>
<svg style="left:344px;top:12px" width="16" height="16" viewBox="0 0 16 16"><path d="M1 2.1H15" stroke="#444" stroke-width="2"/><path d="M6 1.5H10" stroke="#000" stroke-width="1.2"/><path d="M2 3L3.7 14.3H12.3L14 3" stroke="#444" stroke-width="1" fill="none"/></svg>
<div class="dd" style="left:363.5px"></div>
<div id="act"></div>
<svg style="left:398px;top:14px" width="14" height="12" viewBox="0 0 14 12"><path d="M1.8 5V10.5M5.2 2V10.5M8.5 4.2V10.5M12 1.2V10.5" stroke="#111" stroke-width="1.9"/></svg>
<svg style="left:443px;top:12px" width="17" height="16" viewBox="0 0 17 16"><rect x="0.5" y="0.5" width="15.6" height="14.6" rx="1.3" fill="#fff" stroke="#555" stroke-width="1"/><path d="M4.8 2.2V13.6" stroke="#b5b5b5" stroke-width="1"/><path d="M0.5 8.2H16" stroke="#444" stroke-width="1"/></svg>
<svg style="left:491px;top:14px" width="12.4" height="12" viewBox="0 0 12.4 12"><g fill="#000"><path id="ar" d="M0 0H5.2L3.6 1.6L5.7 3.7L3.7 5.7L1.6 3.6L0 5.2Z"/><use href="#ar" transform="translate(12.4 0) scale(-1 1)"/><use href="#ar" transform="translate(0 12) scale(1 -1)"/><use href="#ar" transform="translate(12.4 12) scale(-1 -1)"/></g></svg>
<svg style="left:537px;top:13.8px" width="13.2" height="12.4" viewBox="0 0 13.2 12.4"><rect x="2.6" y="2.8" width="8" height="6.8" fill="none" stroke="#111" stroke-width="1.5"/><path d="M0.6 2.6V0.6H2.8M10.4 0.6H12.6V2.6M12.6 9.8V11.8H10.4M2.8 11.8H0.6V9.8" fill="none" stroke="#111" stroke-width="1.2"/></svg>
<svg style="left:575.8px;top:13.2px" width="14" height="14" viewBox="0 0 14 14"><path d="M7 0.2C3.3 0.2 0.2 3.1 0.2 6.7S3.3 13.2 7 13.2c3.6 0 6.2-2.5 6.200-5.500c0-1.200-1-1.700-2.200-1.500c-1.600 0.300-2.800-0.600-2.600-2.200c0.100-1.200 0.700-2 0.400-2.800C8.600 0.500 7.800 0.200 7 0.200Z" fill="#000"/><g fill="#fff"><circle cx="4.400" cy="2.600" r="0.950"/><circle cx="2.100" cy="5.900" r="0.950"/><circle cx="2.900" cy="9.400" r="0.950"/><circle cx="6.500" cy="10.900" r="0.950"/><circle cx="9.800" cy="9.700" r="0.950"/></g></svg>
<div class="dd" style="left:594px"></div>
<svg style="left:621px;top:15px" width="14" height="11" viewBox="0 0 14 11"><rect width="14" height="11" fill="#1a237e"/><path d="M0 0L14 11M14 0L0 11" stroke="#fff" stroke-width="2.4"/><path d="M0 0L14 11M14 0L0 11" stroke="#d8102a" stroke-width="0.9"/><path d="M7 0V11M0 5.5H14" stroke="#fff" stroke-width="4"/><path d="M7 0V11M0 5.5H14" stroke="#e0102a" stroke-width="2.2"/></svg>
<div class="dd" style="left:640px"></div>

</div>
</body></html>
